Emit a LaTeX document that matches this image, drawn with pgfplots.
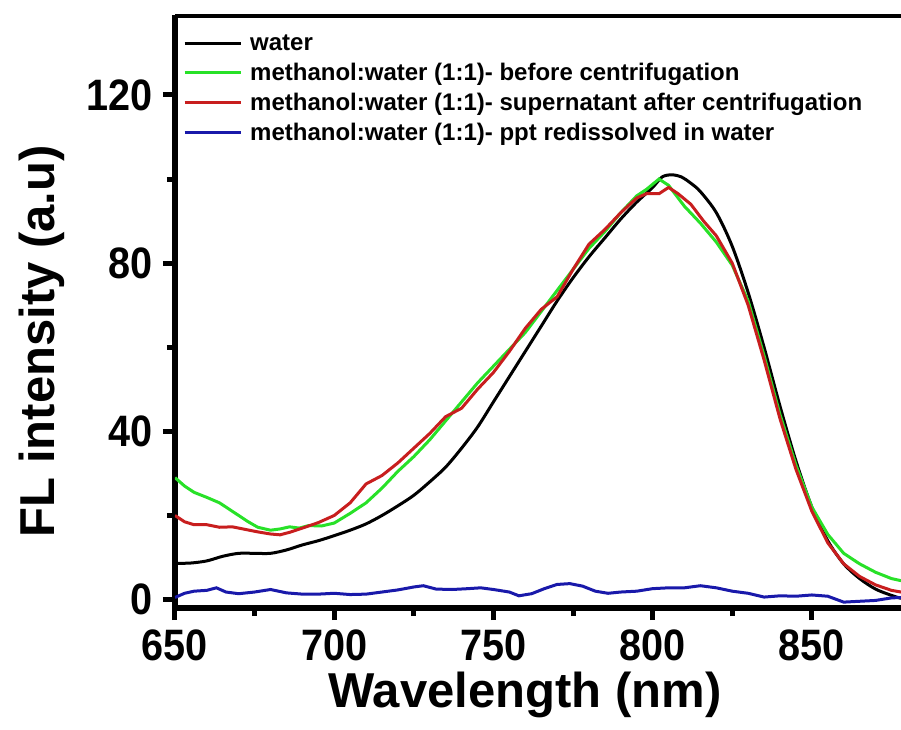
\documentclass[border=0pt]{standalone}
\usepackage{pgfplots}
\pgfplotsset{compat=1.18}
\usepackage{fontspec}
\setmainfont{Liberation Sans}
\newfontfamily\tickfont{Liberation Sans}[FakeStretch=0.9]
\definecolor{cgreen}{RGB}{40,225,40}
\definecolor{cred}{RGB}{200,30,30}
\definecolor{cblue}{RGB}{25,25,170}
\begin{document}
\begin{tikzpicture}
\path[use as bounding box] (-175pt,-121pt) rectangle (726pt,608pt);
\begin{axis}[
    scale only axis,
    width=726pt, height=593pt,
    xmin=650, xmax=878, ymin=-2, ymax=139,
    axis x line*=bottom, axis y line*=left,
    axis line style={-, line width=6pt, black},
    xtick={650,700,...,850}, ytick={0,40,80,120},
    minor x tick num=1, minor y tick num=1,
    tick align=outside,
    major tick length=12pt, minor tick length=8pt,
    every tick/.style={black, line width=5pt},
    /pgf/number format/assume math mode=true,
    ticklabel style={font=\tickfont\fontsize{44}{44}\selectfont\bfseries},
    xticklabel style={inner sep=0pt, anchor=north, yshift=-10pt},
    yticklabel style={inner sep=0pt, anchor=east, xshift=-10pt},
    xlabel={Wavelength (nm)}, ylabel={FL intensity (a.u)},
    label style={font=\fontsize{49}{49}\selectfont\bfseries},
    xlabel style={at={(axis description cs:0.482,-0.168)}, anchor=base, inner sep=0pt},
    ylabel style={at={(axis description cs:-0.183,0.45)}, anchor=center},
    legend style={at={(axis description cs:0,1)}, anchor=north west,
        xshift=5pt, yshift=-16pt, draw=none, fill=none,
        font=\fontsize{24}{24}\selectfont\bfseries, row sep=7pt},
    legend cell align=left,
    legend image code/.code={\draw[#1, line width=3pt] (0pt,0pt) -- (56pt,0pt); \path (62pt,0pt);},
]
\draw[line width=6pt, black] (rel axis cs:0,1) -- (rel axis cs:1,1);

\addplot[black, line width=3pt, smooth] coordinates {
(650,8.6) (655,8.7) (660,9.2) (665,10.3) (670,11) (675,11) (680,11) (685,11.8) (690,13)
(695,14) (700,15.2) (705,16.5) (710,18) (715,20) (720,22.3) (725,24.8) (730,28)
(735,31.5) (740,36) (745,41) (750,47) (755,53) (760,59) (765,65) (770,71)
(775,76.5) (780,81.5) (785,86) (790,90.5) (795,94.5) (800,98) (803,100.5) (806,101)
(809,100.5) (812,99) (815,97) (820,92) (825,84) (830,73) (835,60) (840,46)
(845,33) (850,22) (855,14) (860,8.5) (865,5) (870,2.5) (875,1) (878,0.3)
};
\addlegendentry{water}

\addplot[cgreen, line width=3pt] coordinates {
(650,29) (653,27) (656,25.5) (660,24.3) (664,23) (667,21.5) (670,20) (673,18.5)
(676,17.2) (680,16.5) (683,16.8) (686,17.3) (689,17) (692,17.6) (696,17.5)
(700,18.2) (705,20.5) (710,23) (715,26.5) (720,30.5) (725,34) (730,38)
(735,42.5) (740,47) (745,51.5) (750,55.5) (755,59.5) (760,63.5) (765,68.5)
(770,73.5) (775,78.5) (780,83.5) (785,87.5) (790,92) (795,96) (798,97.5)
(802,100) (805,98.5) (810,93.5) (815,89.5) (820,85) (825,79.5) (830,71)
(835,58) (840,44) (845,32) (850,22) (855,15.5) (860,11) (865,8.5) (870,6.5)
(875,5) (878,4.5)
};
\addlegendentry{methanol:water (1:1)- before centrifugation}

\addplot[cred, line width=3pt] coordinates {
(650,20) (653,18.5) (656,17.8) (660,17.8) (664,17.2) (668,17.3) (672,16.7)
(676,16.1) (680,15.6) (683,15.4) (686,16) (690,17) (695,18.3) (700,20)
(705,23) (710,27.5) (715,29.5) (720,32.5) (725,36) (730,39.5) (735,43.5)
(740,45.5) (745,50) (750,54) (755,59) (760,64.5) (765,69) (770,72)
(775,78.5) (780,84.5) (785,88) (790,92) (795,95.5) (798,96.5) (802,96.5)
(805,98) (808,96.5) (812,94) (816,90) (820,86.5) (825,80) (830,70)
(835,57) (840,43) (845,31) (850,21) (855,13.5) (860,8.5) (865,5.5) (870,3.5)
(875,2.2) (878,1.8)
};
\addlegendentry{methanol:water (1:1)- supernatant after centrifugation}

\addplot[cblue, line width=3pt] coordinates {
(650,0.5) (653,1.5) (656,2) (660,2.2) (663,2.8) (666,1.8) (670,1.4) (675,1.8)
(680,2.4) (685,1.6) (690,1.3) (695,1.3) (700,1.5) (705,1.2) (710,1.3) (715,1.8)
(720,2.3) (725,3) (728,3.3) (732,2.5) (737,2.4) (742,2.6) (746,2.8) (750,2.4)
(755,1.8) (758,0.9) (762,1.4) (766,2.6) (770,3.6) (774,3.8) (778,3.2) (782,2)
(786,1.5) (790,1.8) (795,2) (800,2.6) (805,2.8) (810,2.8) (815,3.3) (820,2.8)
(825,2) (830,1.5) (835,0.6) (840,0.9) (845,0.8) (850,1.1) (855,0.8) (860,-0.6)
(865,-0.4) (870,-0.2) (875,0.4) (878,0.5)
};
\addlegendentry{methanol:water (1:1)- ppt redissolved in water}
\end{axis}
\end{tikzpicture}
\end{document}
